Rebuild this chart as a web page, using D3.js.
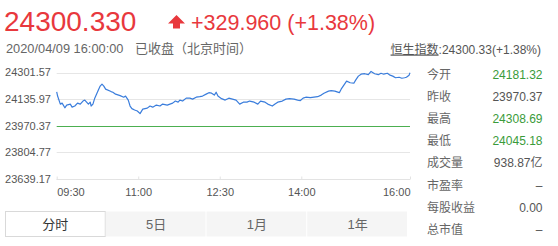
<!DOCTYPE html>
<html>
<head>
<meta charset="utf-8">
<script src="https://cdn.jsdelivr.net/npm/d3@7"></script>
<style>
  body { margin: 0; background: #fff; }
  svg { display: block; font-family: "Liberation Sans", Arial, "Noto Sans CJK SC", sans-serif; }
</style>
</head>
<body>
<svg id="chart" width="558" height="246"></svg>
<script>
// DATA
const times = ["09:30","09:31","09:34","09:36","09:39","09:41","09:45","09:47","09:50","09:53","09:56","09:59",
  "10:01","10:05","10:07","10:08","10:10","10:12","10:16","10:18","10:20","10:22","10:24","10:30","10:32","10:35",
  "10:40","10:44","10:46","10:49","10:51","10:53","10:56","10:59","11:02","11:05","11:10","11:13","11:16","11:20",
  "11:24","11:27","11:32","11:35","11:38","11:41","11:44","11:46","11:49","11:53","11:57","12:00","12:04","12:08",
  "12:11","12:15","12:18","12:21","12:24","12:26","12:28","12:32","12:36","12:40","12:44","12:48","12:52","12:56",
  "13:00","13:03","13:08","13:12","13:15","13:20","13:23","13:28","13:31","13:34","13:39","13:43","13:47","13:52",
  "13:56","13:59","14:02","14:05","14:10","14:14","14:18","14:22","14:25","14:30","14:33","14:37","14:42","14:44",
  "14:47","14:50","14:54","14:58","15:00","15:03","15:06","15:10","15:14","15:17","15:21","15:25","15:28","15:31",
  "15:35","15:38","15:41","15:44","15:48","15:51","15:54","15:56","15:59","16:00"];
const prices = [24181,24155,24105,24111,24082,24099,24105,24086,24093,24111,24105,24124,
  24130,24105,24117,24093,24105,24142,24192,24217,24229,24217,24198,24183,24179,24167,
  24158,24148,24155,24130,24093,24077,24068,24062,24046,24074,24080,24093,24086,24099,
  24093,24105,24099,24105,24111,24124,24117,24130,24124,24142,24142,24136,24148,24151,
  24155,24167,24176,24173,24161,24179,24155,24139,24130,24142,24136,24130,24105,24117,
  24117,24124,24117,24105,24124,24117,24105,24093,24105,24117,24124,24136,24139,24136,
  24130,24127,24142,24148,24145,24148,24151,24161,24173,24186,24189,24186,24176,24198,
  24223,24248,24238,24235,24254,24279,24291,24294,24288,24308,24294,24288,24297,24291,
  24297,24285,24279,24269,24272,24266,24269,24272,24285,24300.33];
const prevClose = 23970.37;
const yTicks = [24301.57, 24135.97, 23970.37, 23804.77, 23639.17];
const xTicks = ["09:30", "11:00", "12:30", "14:00", "16:00"];

const lastPrice = "24300.330";
const change = "+329.960 (+1.38%)";
const timeStamp = "2020/04/09 16:00:00";
const status = "已收盘（北京时间）";
const indexName = "恒生指数";
const indexQuote = ":24300.33(+1.38%)";

const statLabels = ["今开", "昨收", "最高", "最低", "成交量", "市盈率", "每股收益", "总市值"];
const statValues = ["24181.32", "23970.37", "24308.69", "24045.18", "938.87亿", "–", "0.00", "–"];
const statUp = [true, false, true, true, false, false, false, false];

const tabs = ["分时", "5日", "1月", "1年"];

// LAYOUT
const red = "#e8383d";
const plot = { left: 56.7, right: 410, top: 72.5, bottom: 179 };
const svg = d3.select("#chart");
const parse = d3.timeParse("%H:%M");

// SCALES
const x = d3.scaleTime()
  .domain([parse("09:30"), parse("16:00")])
  .range([plot.left, plot.right]);
const y = d3.scaleLinear()
  .domain([yTicks[yTicks.length - 1], yTicks[0]])
  .range([plot.bottom, plot.top]);

// HEADER
svg.append("text")
  .attr("x", 4).attr("y", 31)
  .attr("fill", red).attr("font-size", 28)
  .text(lastPrice);
svg.append("path")
  .attr("d", "M176.5,15 L185,23.5 L180,23.5 L180,28.5 L173,28.5 L173,23.5 L168,23.5 Z")
  .attr("fill", red);
svg.append("text")
  .attr("x", 191).attr("y", 30)
  .attr("fill", red).attr("font-size", 21.5)
  .text(change);
svg.append("text")
  .attr("x", 6).attr("y", 52.5)
  .attr("fill", "#666").attr("font-size", 12.8)
  .text(timeStamp);
svg.append("text")
  .attr("x", 135).attr("y", 52.5)
  .attr("fill", "#666").attr("font-size", 13)
  .text(status);

const idx = svg.append("text")
  .attr("x", 541).attr("y", 53.5)
  .attr("text-anchor", "end")
  .attr("fill", "#555").attr("font-size", 12);
idx.append("tspan").attr("text-decoration", "underline").text(indexName);
idx.append("tspan").text(indexQuote);

// GRID + Y LABELS
svg.append("g")
  .selectAll("line")
  .data(yTicks)
  .join("line")
  .attr("x1", plot.left).attr("x2", plot.right)
  .attr("y1", d => Math.round(y(d)) + 0.5).attr("y2", d => Math.round(y(d)) + 0.5)
  .attr("stroke", d => d === prevClose ? "#4caf50" : "#e6e6e6")
  .attr("stroke-width", 1);

svg.append("g")
  .selectAll("text")
  .data(yTicks)
  .join("text")
  .attr("x", 51).attr("y", d => y(d))
  .attr("dy", "0.35em")
  .attr("text-anchor", "end")
  .attr("fill", "#555").attr("font-size", 11)
  .text(d => d.toFixed(2));

// X AXIS
const xAxis = d3.axisBottom(x)
  .tickValues(xTicks.map(parse))
  .tickSize(-3)
  .tickFormat(d3.timeFormat("%H:%M"));
const gx = svg.append("g")
  .attr("transform", `translate(0,${plot.bottom + 0.5})`)
  .call(xAxis);
gx.select(".domain").attr("stroke", "#e3e3e3").attr("d", `M${plot.left},0H${plot.right}`);
gx.selectAll(".tick line").attr("stroke", "#e3e3e3");
gx.selectAll(".tick text")
  .attr("y", 9)
  .attr("fill", "#555")
  .attr("font-size", 11)
  .attr("font-family", "Liberation Sans, Arial, sans-serif")
  .attr("text-anchor", (d, i) => i === 0 ? "start" : i === xTicks.length - 1 ? "end" : "middle");

// LINE
const line = d3.line()
  .x((d, i) => x(parse(times[i])))
  .y(d => y(d));
svg.append("path")
  .datum(prices)
  .attr("d", line)
  .attr("fill", "none")
  .attr("stroke", "#3a7ddc")
  .attr("stroke-width", 1.2)
  .attr("stroke-linejoin", "round");

// STATS PANEL
const stats = svg.append("g");
stats.selectAll("text.label")
  .data(statLabels)
  .join("text")
  .attr("class", "label")
  .attr("x", 427).attr("y", (d, i) => 79 + i * 22.1)
  .attr("fill", "#666").attr("font-size", 12)
  .text(d => d);
stats.selectAll("text.value")
  .data(statValues)
  .join("text")
  .attr("class", "value")
  .attr("x", 542.5).attr("y", (d, i) => 79 + i * 22.1)
  .attr("text-anchor", "end")
  .attr("fill", (d, i) => statUp[i] ? "#3a9b3a" : "#555")
  .attr("font-size", 12)
  .text(d => d);

// TABS
const tabX = d3.scaleBand().domain(tabs).range([5, 408]);
const tab = svg.append("g").selectAll("g")
  .data(tabs)
  .join("g")
  .attr("transform", d => `translate(${tabX(d)},211)`);
tab.append("rect")
  .attr("x", (d, i) => i === 0 ? 0.5 : 0).attr("y", 0.5)
  .attr("width", tabX.bandwidth() - 1)
  .attr("height", 25)
  .attr("fill", (d, i) => i === 0 ? "#fff" : "#f5f5f5")
  .attr("stroke", (d, i) => i === 0 ? "#d9d9d9" : "none");
tab.append("text")
  .attr("x", tabX.bandwidth() / 2).attr("y", 13)
  .attr("dy", "0.35em")
  .attr("text-anchor", "middle")
  .attr("fill", (d, i) => i === 0 ? "#333" : "#666")
  .attr("font-size", 13)
  .text(d => d);
</script>
</body>
</html>
